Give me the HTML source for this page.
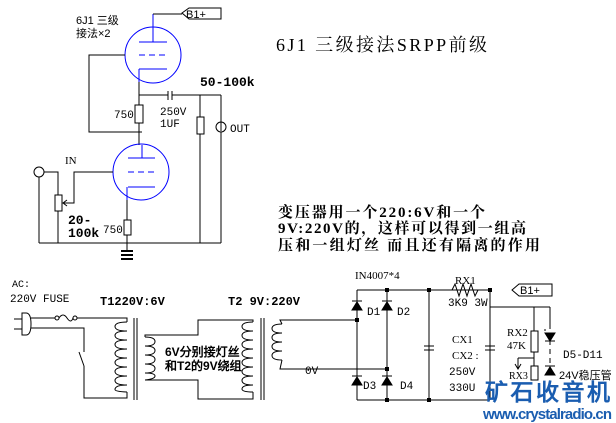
<!DOCTYPE html>
<html><head><meta charset="utf-8"><style>
body{margin:0;background:#fff;width:616px;height:423px;overflow:hidden}
svg{display:block}
text{font-family:"Liberation Sans","WenQuanYi Zen Hei",sans-serif;fill:#000}
.s{font-family:"Liberation Serif","Noto Serif CJK SC",serif}
.m{font-family:"Liberation Mono","WenQuanYi Zen Hei",monospace}
</style></head><body>
<svg width="616" height="423" viewBox="0 0 616 423" xmlns="http://www.w3.org/2000/svg">
<g fill="none" stroke="#000" stroke-width="1">
<!-- upper tube -->
<circle cx="153" cy="55" r="28" stroke="#0000ff"/>
<line x1="153" y1="14" x2="153" y2="42" stroke="#0000ff"/>
<line x1="139" y1="42" x2="167" y2="42" stroke="#0000ff"/>
<line x1="139" y1="55" x2="167" y2="55" stroke="#0000ff" stroke-dasharray="6,4"/>
<line x1="139" y1="69" x2="167" y2="69" stroke="#0000ff"/>
<line x1="139" y1="69" x2="139" y2="82" stroke="#0000ff"/>
<polyline points="153,14 182,14"/>
<polygon points="182,13 189,8 221,8 221,19 189,19"/>
<polyline points="125,55 89,55 89,132 142,132"/>
<line x1="139" y1="82" x2="139" y2="105"/>
<rect x="135" y="105" width="8" height="18"/>
<line x1="139" y1="123" x2="139" y2="145"/>
<line x1="139" y1="95" x2="168" y2="95"/><line x1="168" y1="91" x2="168" y2="100"/><line x1="172" y1="91" x2="172" y2="100"/>
<line x1="172" y1="95" x2="221" y2="95"/>
<line x1="200" y1="95" x2="200" y2="117"/><rect x="197" y="117" width="7" height="17"/><line x1="200" y1="134" x2="200" y2="243"/>
<line x1="221" y1="95" x2="221" y2="122"/><circle cx="221" cy="127" r="5"/><line x1="221" y1="122" x2="221" y2="131"/><line x1="221" y1="132" x2="221" y2="243"/>
<!-- lower tube -->
<circle cx="141" cy="172" r="28" stroke="#0000ff"/>
<line x1="142" y1="145" x2="142" y2="158" stroke="#0000ff"/>
<line x1="128" y1="158" x2="155" y2="158" stroke="#0000ff"/>
<line x1="128" y1="172" x2="155" y2="172" stroke="#0000ff" stroke-dasharray="6,4"/>
<line x1="128" y1="187" x2="155" y2="187" stroke="#0000ff"/>
<line x1="127" y1="187" x2="127" y2="200" stroke="#0000ff"/>
<line x1="127" y1="200" x2="127" y2="220"/><rect x="124" y="220" width="7" height="15"/><line x1="127" y1="235" x2="127" y2="250"/>
<polyline points="113,172 74,172 74,203 64,203"/>
<polyline points="67,200 63,203 67,206"/>
<circle cx="39" cy="172" r="5"/>
<polyline points="44,172 58,172 58,195"/><rect x="55" y="195" width="7" height="16"/><line x1="58" y1="211" x2="58" y2="243"/>
<line x1="39" y1="177" x2="39" y2="243"/>
<line x1="39" y1="243" x2="221" y2="243"/>
<line x1="121" y1="251" x2="133" y2="251" stroke-width="2"/><line x1="121" y1="255" x2="133" y2="255" stroke-width="2"/><line x1="121" y1="259" x2="133" y2="259" stroke-width="2"/>
<!-- mains -->
<path d="M22,313 L26,313 Q31,313 31,324 Q31,335 26,335 L22,335 Z"/>
<line x1="14" y1="319" x2="22" y2="319"/><line x1="14" y1="329" x2="22" y2="329"/>
<line x1="31" y1="318" x2="55" y2="318"/>
<circle cx="57" cy="318" r="2"/><path d="M59,318 Q63,312 67,318 Q71,324 73,318"/><circle cx="75" cy="318" r="2"/>
<polyline points="77,318 127,318 127,322"/>
<polyline points="31,328 84,328 84,352"/>
<line x1="79" y1="352" x2="84" y2="366"/>
<polyline points="84,366 84,398 127,398 127,392"/>
<g id="c1">
<path d="M127,322 q-12,0 -12,4.5 q0,4.5 12,4.5 M127,331 q-12,0 -12,4.5 q0,4.5 12,4.5 M127,340 q-12,0 -12,4.5 q0,4.5 12,4.5 M127,349 q-12,0 -12,4.5 q0,4.5 12,4.5 M127,358 q-12,0 -12,4.5 q0,4.5 12,4.5 M127,367 q-12,0 -12,4.5 q0,4.5 12,4.5 M127,376 q-12,0 -12,4.5 q0,4.5 12,4.5 M127,385 q-12,0 -12,4.5 q0,2 12,2.5"/>
</g>
<line x1="134" y1="318" x2="134" y2="400"/><line x1="137" y1="318" x2="137" y2="400"/>
<path d="M145,337 q10,0 10,4.5 q0,4.5 -10,4.5 M145,346 q10,0 10,4.5 q0,4.5 -10,4.5 M145,355 q10,0 10,4.5 q0,4.5 -10,4.5 M145,364 q10,0 10,4.5 q0,4.5 -10,4.5 M145,373 q10,0 10,3 q0,3 -10,4"/>
<polyline points="145,337 145,335 198,335 198,320 253,320 253,322"/>
<polyline points="145,380 198,380 198,399 253,399 253,392"/>
<path d="M253,322 q-11,0 -11,4.5 q0,4.5 11,4.5 M253,331 q-11,0 -11,4.5 q0,4.5 11,4.5 M253,340 q-11,0 -11,4.5 q0,4.5 11,4.5 M253,349 q-11,0 -11,4.5 q0,4.5 11,4.5 M253,358 q-11,0 -11,4.5 q0,4.5 11,4.5 M253,367 q-11,0 -11,4.5 q0,4.5 11,4.5 M253,376 q-11,0 -11,4.5 q0,4.5 11,4.5 M253,385 q-11,0 -11,4 q0,3 11,3"/>
<line x1="261" y1="318" x2="261" y2="400"/><line x1="264" y1="318" x2="264" y2="400"/>
<path d="M282,324 q-10,0 -10,4.5 q0,4.5 10,4.5 M282,333 q-10,0 -10,4.5 q0,4.5 10,4.5 M282,342 q-10,0 -10,4.5 q0,4.5 10,4.5 M282,351 q-10,0 -10,4.5 q0,4.5 10,4.5"/>
<polyline points="282,324 280,320 357,320"/>
<polyline points="282,360 280,369 387,369"/>
<!-- bridge -->
<line x1="357" y1="290" x2="490" y2="290"/>
<line x1="357" y1="290" x2="357" y2="400"/><line x1="387" y1="290" x2="387" y2="400"/>
<line x1="357" y1="400" x2="490" y2="400"/>
<line x1="429" y1="290" x2="429" y2="400"/>
<line x1="490" y1="290" x2="490" y2="400"/>
<line x1="490" y1="307" x2="550" y2="307"/>
<line x1="534" y1="307" x2="534" y2="331"/><rect x="531" y="331" width="7" height="21"/><line x1="534" y1="352" x2="534" y2="366"/><rect x="531" y="366" width="7" height="14"/>
<polyline points="518,358 534,358"/><line x1="518" y1="358" x2="518" y2="368"/><polyline points="515,364 518,369 521,364"/>
<line x1="550" y1="307" x2="550" y2="329"/><line x1="550" y1="340" x2="550" y2="365" stroke-dasharray="5,4"/>
</g>
<g fill="#000" stroke="#000">
<polygon points="352,310 362,310 357,302"/><line x1="352" y1="301" x2="362" y2="301"/>
<polygon points="382,310 392,310 387,302"/><line x1="382" y1="301" x2="392" y2="301"/>
<polygon points="352,385 362,385 357,377"/><line x1="352" y1="376" x2="362" y2="376"/>
<polygon points="382,385 392,385 387,377"/><line x1="382" y1="376" x2="392" y2="376"/>
<polygon points="545,333 555,333 550,341"/><line x1="545" y1="341" x2="555" y2="341"/><line x1="545" y1="329" x2="545" y2="331"/>
<polygon points="545,375 555,375 550,367"/><line x1="545" y1="366" x2="555" y2="366"/>
<rect x="355" y="318" width="4" height="4" stroke="none"/><rect x="385" y="367" width="4" height="4" stroke="none"/>
<rect x="385" y="288" width="4" height="4" stroke="none"/><rect x="427" y="288" width="4" height="4" stroke="none"/><rect x="488" y="288" width="4" height="4" stroke="none"/>
<rect x="385" y="398" width="4" height="4" stroke="none"/><rect x="427" y="398" width="4" height="4" stroke="none"/>
<rect x="152" y="412" width="0" height="0"/>
</g>
<g fill="none" stroke="#000">
<polyline points="452,290 455,284 459,296 463,284 467,296 471,284 475,296 478,290"/>
<polygon points="512,290 519,284 552,284 552,296 519,296"/>
<line x1="424" y1="346" x2="434" y2="346"/><line x1="424" y1="350" x2="434" y2="350"/>
<line x1="485" y1="346" x2="495" y2="346"/><line x1="485" y1="350" x2="495" y2="350"/>
</g>
<!-- texts -->
<text x="186" y="18" font-size="11">B1+</text>
<text x="520" y="294" font-size="11">B1+</text>
<text x="76" y="24" font-size="11">6J1 三级</text>
<text x="76" y="37" font-size="11">接法×2</text>
<text x="114" y="118" font-size="11" class="m">750</text>
<text x="160" y="115" font-size="11" class="m">250V</text>
<text x="160" y="127" font-size="11" class="m">1UF</text>
<text x="200" y="86" font-size="13" font-weight="bold" class="m">50-100k</text>
<text x="230" y="132" font-size="11" class="m">OUT</text>
<text x="65" y="164" font-size="11" class="s">IN</text>
<text x="68" y="224" font-size="13" font-weight="bold" class="m">20-</text>
<text x="68" y="237" font-size="13" font-weight="bold" class="m">100k</text>
<text x="103" y="233" font-size="11" class="m">750</text>
<text x="276" y="51" font-size="18" class="s" textLength="211">6J1 三级接法SRPP前级</text>
<text x="278" y="217" font-size="15" font-weight="bold" class="s" textLength="207">变压器用一个220:6V和一个</text>
<text x="278" y="233" font-size="15" font-weight="bold" class="s" textLength="248">9V:220V的，这样可以得到一组高</text>
<text x="278" y="250" font-size="15" font-weight="bold" class="s" textLength="262">压和一组灯丝 而且还有隔离的作用</text>
<text x="12" y="287" font-size="10" class="m">AC:</text>
<text x="10" y="302" font-size="11" class="m">220V FUSE</text>
<text x="100" y="305" font-size="12" font-weight="bold" class="m">T1220V:6V</text>
<text x="228" y="305" font-size="12" font-weight="bold" class="m">T2 9V:220V</text>
<text x="165" y="356" font-size="12" font-weight="bold">6V分别接灯丝</text>
<text x="165" y="370" font-size="12" font-weight="bold">和T2的9V绕组</text>
<text x="305" y="374" font-size="11" class="m">0V</text>
<text x="355" y="279" font-size="11" class="s">IN4007*4</text>
<text x="367" y="315" font-size="11" class="m">D1</text><text x="397" y="315" font-size="11" class="m">D2</text>
<text x="363" y="389" font-size="11" class="m">D3</text><text x="400" y="389" font-size="11" class="m">D4</text>
<text x="455" y="284" font-size="11" class="s">RX1</text>
<text x="448" y="306" font-size="11" class="m">3K9 3W</text>
<text x="452" y="343" font-size="11" class="s">CX1</text>
<text x="452" y="359" font-size="11" class="s">CX2 :</text>
<text x="449" y="375" font-size="11" class="m">250V</text>
<text x="449" y="391" font-size="11" class="m">330U</text>
<text x="507" y="336" font-size="11" class="s">RX2</text>
<text x="507" y="349" font-size="11" class="s">47K</text>
<text x="563" y="358" font-size="11" class="m">D5-D11</text>
<text x="559" y="379" font-size="11">24V稳压管</text>
<text x="509" y="379" font-size="10" class="s">RX3</text>
<text x="485" y="400" font-size="23" font-weight="bold" fill="#1a5db0" style="fill:#1a5db0" textLength="125">矿石收音机</text>
<text x="483" y="419" font-size="15" font-weight="bold" style="fill:#1a5db0" textLength="129">www.crystalradio.cn</text>
</svg>
</body></html>
